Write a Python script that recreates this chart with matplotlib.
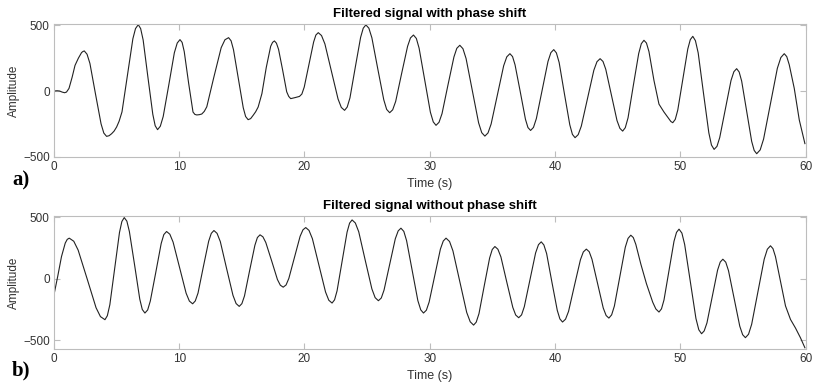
import matplotlib
matplotlib.use("Agg")
import matplotlib.pyplot as plt

# --- Data (time in s, amplitude), one line per swing ---
t_a = [0.0, 0.25, 0.45, 0.65, 0.85,
       1.0, 1.2, 1.45, 1.68,
       1.95, 2.2, 2.3, 2.42,
       2.64, 2.87, 3.31, 3.76, 3.98, 4.2,
       4.4, 4.6, 4.8, 5.0,
       5.2, 5.43, 5.87, 6.3, 6.51, 6.73,
       6.92, 7.12, 7.5, 7.89, 8.08, 8.27,
       8.49, 8.72, 9.17, 9.61, 9.84, 10.06,
       10.23, 10.4, 10.75, 11.1, 11.25, 11.4, 11.6, 11.8,
       12.0, 12.2, 12.75, 13.35, 13.65, 13.94,
       14.14, 14.33, 14.72, 15.11, 15.3, 15.5,
       15.7, 15.9, 16.1, 16.3,
       16.6, 16.95, 17.3, 17.45, 17.6,
       17.76, 17.93, 18.25, 18.58, 18.74, 18.9,
       19.25, 19.6,
       19.79, 19.98, 20.35, 20.73, 20.91, 21.1,
       21.36, 21.63, 22.15, 22.68, 22.94, 23.2,
       23.41, 23.63, 24.05, 24.48, 24.69, 24.9,
       25.14, 25.38, 25.85, 26.33, 26.56, 26.8,
       27.04, 27.28, 27.75, 28.23, 28.46, 28.7,
       28.93, 29.15, 29.6, 30.05, 30.28, 30.5,
       30.74, 30.98, 31.45, 31.93, 32.16, 32.4,
       32.65, 32.9, 33.4, 33.9, 34.15, 34.4,
       34.65, 34.9, 35.4, 35.9, 36.15, 36.4,
       36.61, 36.81, 37.23, 37.64, 37.84, 38.05,
       38.28, 38.51, 38.98, 39.44, 39.67, 39.9,
       40.11, 40.33, 40.75, 41.18, 41.39, 41.6,
       41.85, 42.1, 42.6, 43.1, 43.35, 43.6,
       43.83, 44.05, 44.5, 44.95, 45.18, 45.4,
       45.61, 45.83, 46.25, 46.68, 46.89, 47.1,
       47.3, 47.5, 47.9, 48.3, 48.7, 49.05, 49.25, 49.4,
       49.6, 49.8, 50.2, 50.6, 50.8, 51.0,
       51.21, 51.43, 51.85, 52.28, 52.49, 52.7,
       52.93, 53.15, 53.6, 54.05, 54.28, 54.5,
       54.7, 54.9, 55.3, 55.7, 55.9, 56.1,
       56.38, 56.65, 57.2, 57.75, 58.03, 58.3,
       58.5, 58.7, 59.1, 59.5, 59.95]
v_a = [0, 2, 0, -8, -13,
       -8, 20, 105, 195,
       250, 292, 300, 305,
       280, 210, -20, -250, -320, -345,
       -340, -325, -305, -274,
       -230, -159, 120, 398, 475, 505,
       475, 388, 105, -177, -264, -294,
       -268, -194, 48, 291, 365, 391,
       370, 300, 60, -160, -178, -182, -180, -175,
       -155, -120, 100, 330, 390, 406,
       382, 315, 94, -127, -194, -218,
       -210, -185, -158, -122,
       -20, 180, 340, 370, 381,
       364, 317, 162, -6, -41, -58,
       -50, -41,
       -23, 30, 200, 373, 426, 444,
       422, 358, 149, -61, -125, -147,
       -122, -52, 178, 408, 478, 503,
       478, 405, 169, -67, -140, -165,
       -143, -79, 131, 340, 404, 426,
       400, 326, 83, -161, -235, -261,
       -238, -172, 44, 259, 325, 348,
       322, 247, 3, -242, -317, -343,
       -319, -251, -30, 192, 260, 284,
       262, 199, -8, -215, -278, -300,
       -277, -210, 8, 225, 292, 315,
       290, 217, -20, -257, -330, -355,
       -332, -267, -55, 158, 223, 246,
       225, 166, -30, -225, -284, -305,
       -279, -204, 41, 285, 360, 386,
       365, 300, 80, -100, -160, -205, -232, -241,
       -216, -145, 88, 320, 391, 416,
       383, 290, -14, -318, -411, -444,
       -421, -354, -137, 80, 147, 170,
       145, 76, -154, -383, -452, -477,
       -448, -366, -97, 173, 255, 284,
       262, 200, 20, -220, -400]

t_b = [0.0, 0.3, 0.6, 0.9, 1.06, 1.22,
       1.58, 1.93, 2.65, 3.36, 3.71, 4.07,
       4.26, 4.46, 4.84, 5.23, 5.42, 5.61,
       5.82, 6.02, 6.44, 6.85, 7.05, 7.26,
       7.48, 7.69, 8.13, 8.56, 8.77, 8.99,
       9.25, 9.51, 10.03, 10.55, 10.81, 11.07,
       11.28, 11.5, 11.92, 12.35, 12.56, 12.77,
       13.02, 13.28, 13.78, 14.29, 14.54, 14.79,
       15.0, 15.21, 15.62, 16.04, 16.24, 16.45,
       16.68, 16.91, 17.38, 17.84, 18.07, 18.3,
       18.53, 18.75, 19.2, 19.65, 19.88, 20.1,
       20.36, 20.63, 21.15, 21.68, 21.94, 22.2,
       22.4, 22.6, 23.0, 23.4, 23.6, 23.8,
       24.06, 24.33, 24.85, 25.38, 25.64, 25.9,
       26.13, 26.35, 26.8, 27.25, 27.48, 27.7,
       27.93, 28.15, 28.6, 29.05, 29.28, 29.5,
       29.73, 29.95, 30.4, 30.85, 31.08, 31.3,
       31.58, 31.85, 32.4, 32.95, 33.23, 33.5,
       33.71, 33.93, 34.35, 34.78, 34.99, 35.2,
       35.44, 35.68, 36.15, 36.63, 36.86, 37.1,
       37.33, 37.55, 38.0, 38.45, 38.68, 38.9,
       39.11, 39.33, 39.75, 40.18, 40.39, 40.6,
       40.84, 41.08, 41.55, 42.03, 42.26, 42.5,
       42.73, 42.95, 43.4, 43.85, 44.08, 44.3,
       44.52, 44.74, 45.18, 45.61, 45.83, 46.05,
       46.25, 46.45, 46.85, 47.3, 47.8, 48.05, 48.3,
       48.5, 48.7, 49.1, 49.5, 49.7, 49.9,
       50.13, 50.35, 50.8, 51.25, 51.48, 51.7,
       51.91, 52.13, 52.55, 52.98, 53.19, 53.4,
       53.63, 53.85, 54.3, 54.75, 54.98, 55.2,
       55.45, 55.7, 56.2, 56.7, 56.95, 57.2,
       57.4, 57.6, 58.0, 58.4, 58.8, 59.2, 59.6, 59.95]
v_b = [-130, 20, 180, 290, 320, 330,
       305, 233, -1, -235, -307, -332,
       -300, -211, 82, 376, 465, 497,
       468, 384, 110, -165, -249, -278,
       -253, -181, 53, 287, 359, 384,
       362, 298, 91, -117, -181, -203,
       -180, -116, 95, 305, 369, 392,
       369, 302, 84, -134, -201, -224,
       -202, -139, 67, 272, 335, 357,
       341, 295, 145, -6, -52, -68,
       -50, 3, 174, 345, 398, 416,
       393, 326, 110, -107, -174, -197,
       -171, -98, 141, 379, 452, 478,
       453, 382, 150, -82, -153, -178,
       -156, -92, 117, 325, 389, 411,
       385, 310, 67, -177, -252, -278,
       -255, -189, 26, 241, 307, 330,
       303, 227, -23, -273, -349, -376,
       -352, -283, -57, 169, 238, 262,
       240, 178, -27, -232, -294, -316,
       -293, -226, -8, 210, 277, 300,
       275, 205, -26, -256, -326, -351,
       -328, -265, -55, 155, 218, 241,
       220, 159, -39, -237, -298, -319,
       -293, -221, 18, 256, 328, 354,
       335, 280, 120, -40, -190, -245, -270,
       -244, -172, 67, 305, 377, 403,
       371, 279, -22, -322, -414, -446,
       -423, -358, -144, 71, 136, 159,
       135, 66, -160, -385, -454, -478,
       -450, -369, -105, 159, 240, 268,
       245, 180, -20, -220, -330, -400, -480, -560]

x_ticks = [0, 10, 20, 30, 40, 50, 60]
y_ticks = [-500, 0, 500]

plt.rcParams['font.family'] = ['Liberation Sans', 'DejaVu Sans']

fig = plt.figure(figsize=(8.14, 3.85), dpi=100)
ax_a = fig.add_axes([0.0663, 0.5922, 0.9233, 0.3455])
ax_b = fig.add_axes([0.0663, 0.0935, 0.9233, 0.3455])

panels = [
    (ax_a, t_a, v_a, 'Filtered signal with phase shift', (-502, 510)),
    (ax_b, t_b, v_b, 'Filtered signal without phase shift', (-570, 510)),
]

for ax, t, v, title, ylim in panels:
    ax.plot(t, v, color='#222222', linewidth=0.8)
    ax.set_xlim(0, 60)
    ax.set_ylim(*ylim)
    ax.set_xticks(x_ticks)
    ax.set_yticks(y_ticks)
    ax.tick_params(direction='in', length=4, width=0.8, color='#bdbdbd',
                   labelsize=8.5, labelcolor='#333333', pad=3,
                   top=True, right=True)
    for s in ax.spines.values():
        s.set_color('#bdbdbd')
        s.set_linewidth(0.8)
    ax.set_title(title, fontsize=9.5, fontweight='bold', pad=5)
    ax.set_xlabel('Time (s)', fontsize=9, color='#333333')
    ax.set_ylabel('Amplitude', fontsize=8.5, color='#333333')
    ax.xaxis.set_label_coords(0.5, -0.155)
    ax.yaxis.set_label_coords(-0.045, 0.5)

fig.text(0.0147, 0.517, 'a)', family='Liberation Serif', fontweight='bold', fontsize=15)
fig.text(0.0147, 0.026, 'b)', family='Liberation Serif', fontweight='bold', fontsize=15)

fig.savefig('out.png', dpi=100)
